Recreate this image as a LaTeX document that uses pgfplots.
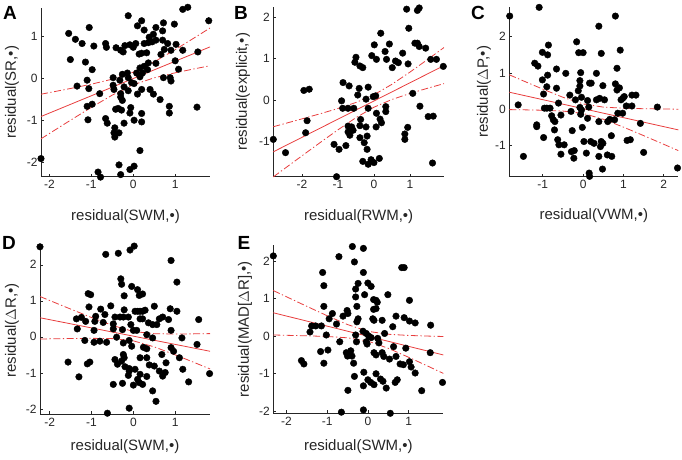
\documentclass[border=0pt]{standalone}
\usepackage{pgfplots}
\pgfplotsset{compat=1.18}
\usepackage{fontspec}
\setmainfont{Liberation Sans}
\definecolor{axgray}{RGB}{38,38,38}
\definecolor{redl}{RGB}{232,62,62}
\pgfplotsset{
  resid/.style={
    scale only axis, clip=false,
    axis lines=left, axis line style={-, draw=axgray, line width=0.6pt},
    tick align=inside, major tick length=3pt,
    tick style={axgray, line width=0.6pt},
    ticklabel style={font=\fontsize{12}{14}\selectfont, text=axgray},
    label style={font=\fontsize{15}{18}\selectfont, text=axgray},
    /pgf/number format/assume math mode=true,
    xlabel style={anchor=center},
    ylabel style={anchor=center},
  },
  pts/.style={only marks, mark=*, mark size=3.3pt, black},
  fit/.style={redl, line width=0.8pt, no marks},
  band/.style={redl, line width=0.8pt, no marks, dash pattern=on 7pt off 2.5pt on 1.3pt off 2.5pt},
}
\begin{document}
\begin{tikzpicture}[x=1pt,y=1pt]
\useasboundingbox (0,0) rectangle (682,460);
% ---------------- A
\begin{axis}[resid, at={(41pt,283.3pt)}, anchor=south west,
  width=169pt, height=169pt,
  xmin=-2.2, xmax=1.83, ymin=-2.33, ymax=1.68,
  xtick={-2,-1,0,1}, ytick={-2,-1,0,1},
  xlabel={residual(SWM,•)}, ylabel={residual(SR,•)},
  xlabel style={at={(axis description cs:0.5,0)}, yshift=-40pt},
  ylabel style={at={(axis description cs:-0.172,0.5)}}]
\addplot[pts] coordinates {
(-2.2,-1.9) (1.18,1.64) (1.3,1.69) (1.8,1.37) (-0.12,1.49) (-1.54,1.07) (-1.05,1.21)
(-1.38,0.93) (-1.22,0.83) (-1.5,0.45) (-0.94,0.77) (-0.66,0.83) (-0.64,0.74) (-0.41,0.73)
(-0.2,0.78) (-0.08,0.8) (0.0,0.74) (-0.24,0.63) (-0.3,0.67)
(0.1,1.25) (0.2,1.37) (0.26,1.15) (0.38,0.98) (0.48,1.05) (0.54,1.21) (0.7,1.13) (0.72,1.32) (0.98,1.29)
(0.7,0.91) (0.06,0.83) (0.26,0.83) (0.36,0.85) (0.45,0.87) (0.54,0.91)
(0.82,0.83) (1.02,0.81) (0.74,0.69) (0.9,0.67) (1.18,0.67) (1.54,0.63)
(0.2,0.6) (0.14,0.58) (0.32,0.61) (0.66,0.57) (0.54,0.36) (1.0,0.42) (1.08,0.22) (0.36,0.37)
(0.26,0.29) (0.16,0.25) (0.08,0.13) (0.22,0.13) (0.34,0.21) (0.16,0.04)
(-1.14,0.39) (-0.98,0.21) (-1.1,-0.04) (-1.06,-0.24) (-1.34,-0.18) (-1.1,-0.66) (-0.98,-0.61)
(-0.8,-0.36) (-1.08,-0.98) (-0.66,-0.95) (-0.62,-1.06)
(-0.48,0.02) (-0.48,-0.16) (-0.46,-0.26) (-0.32,-0.04) (-0.26,0.1) (-0.14,0.13) (-0.12,0.02)
(-0.04,-0.1) (0.02,-0.12) (-0.22,-0.2) (-0.3,-0.36) (-0.3,-0.44) (-0.26,-0.52) (-0.36,-0.71)
(-0.42,-0.73) (-0.28,-0.75) (-0.06,-0.69) (-0.08,-0.82) (-0.12,-0.29) (0.1,-0.37) (0.2,-0.26)
(0.4,-0.26) (0.48,-0.37) (0.64,-0.5) (0.88,0.02) (0.9,-0.06) (0.72,0.02)
(-0.44,-1.17) (-0.46,-1.29) (-0.44,-1.39) (-0.34,-1.29) (-0.22,-1.06) (0.02,-0.99) (0.2,-0.83)
(0.2,-1.03) (0.16,-1.71)
(-0.34,-2.05) (-0.3,-2.28) (-0.08,-2.16) (0.02,-2.08) (-0.84,-2.22) (-0.78,-2.34)
(0.86,-0.66) (0.86,-0.82) (1.52,-0.68)
};
\addplot[band] coordinates {(-2.2,-0.373) (-1.5,-0.238) (-1,-0.135) (-0.5,-0.016) (0,0.15) (0.5,0.394) (1,0.685) (1.5,0.992) (1.83,1.198)};
\addplot[band] coordinates {(-2.2,-1.431) (-1.5,-0.992) (-1,-0.685) (-0.5,-0.394) (0,-0.15) (0.5,0.016) (1,0.135) (1.5,0.238) (1.83,0.302)};
\addplot[fit] coordinates {(-2.2,-0.902) (1.83,0.75)};
\end{axis}
% ---------------- B
\begin{axis}[resid, at={(273.3pt,283.3pt)}, anchor=south west,
  width=170.7pt, height=170pt,
  xmin=-2.8, xmax=1.95, ymin=-1.85, ymax=2.25,
  xtick={-2,-1,0,1}, ytick={-1,0,1,2},
  xlabel={residual(RWM,•)}, ylabel={residual(explicit,•)},
  xlabel style={at={(axis description cs:0.5,0)}, yshift=-39.5pt},
  ylabel style={at={(axis description cs:-0.178,0.5)}}]
\addplot[pts] coordinates {
(-2.8,-0.95) (-2.46,-1.27) (-1.95,0.23) (-1.8,0.26) (-1.86,-0.5) (-1.9,-0.79) (-1.04,-1.85)
(-1.11,-1.07) (-0.97,-1.19)
(-0.86,0.42) (-0.69,0.34) (-0.9,-0.02) (-0.87,-0.2) (-0.72,-0.2) (-0.56,-0.2) (-0.78,-1.1)
(-0.72,-0.77) (-0.67,-0.85) (-0.72,-0.63) (-0.62,-0.65) (-0.58,-0.73) (-0.39,-0.62) (-0.39,-0.91)
(-0.27,-1.03) (-0.19,-0.87) (-0.22,-0.65) (-0.37,-0.47) (-0.45,0.12) (-0.41,0.28) (-0.16,0.31)
(-0.22,0.02) (-0.16,-0.2) (-0.19,-1.19) (-0.31,-1.48) (-0.16,-1.55) (-0.08,-1.44) (0,-1.51) (0.15,-1.41)
(-0.53,0.91) (-0.5,1.03) (-0.39,0.82) (-0.31,0.78) (-0.06,1.07) (0.01,1.33) (0.07,0.98) (0.19,1.61)
(0.31,1.17) (0.43,1.35) (0.35,0.98) (0.51,0.78) (0.6,0.94) (0.68,0.9) (0.8,1.13) (0.95,0.87)
(0.97,1.73) (0.91,2.19) (1.21,2.16) (1.26,2.22) (1.14,1.37) (1.21,1.37) (1.26,1.29) (1.44,1.25)
(1.58,0.98) (1.74,0.98) (1.93,0.81)
(-0.02,0.08) (0.05,0.1) (0.07,-0.32) (0.06,-0.65) (0.17,-0.46) (0.21,-0.55) (0.33,-0.16) (0.33,-0.28)
(1.08,0.16) (1.28,-0.15) (1.51,-0.4) (1.65,-0.39) (0.94,-0.66) (0.86,-0.82) (0.86,-0.95) (1.63,-1.52)
};
\addplot[band] coordinates {(-2.8,-0.645) (-2,-0.455) (-1.5,-0.333) (-1,-0.205) (-0.5,-0.06) (0,0.126) (0.5,0.378) (1,0.671) (1.5,0.981) (1.95,1.265)};
\addplot[band] coordinates {(-2.8,-1.855) (-2,-1.345) (-1.5,-1.029) (-1,-0.719) (-0.5,-0.426) (0,-0.174) (0.5,0.012) (1,0.157) (1.5,0.285) (1.95,0.395)};
\addplot[fit] coordinates {(-2.8,-1.25) (1.95,0.83)};
\end{axis}
% ---------------- C
\begin{axis}[resid, at={(509.3pt,283.3pt)}, anchor=south west,
  width=169pt, height=169.7pt,
  xmin=-1.83, xmax=2.36, ymin=-1.86, ymax=2.82,
  xtick={-1,0,1,2}, ytick={-1,0,1,2},
  xlabel={residual(VWM,•)}, ylabel={residual($\Delta$P,•)},
  xlabel style={at={(axis description cs:0.5,0)}, yshift=-39.3pt},
  ylabel style={at={(axis description cs:-0.15,0.5)}}]
\addplot[pts] coordinates {
(-1.82,2.57) (-1.09,2.81) (-1.61,0.12) (-1.48,-1.3)
(-1.2,1.27) (-1.12,1.19) (-0.86,1.77) (-1.01,1.57) (-0.88,1.5) (-1.01,0.81) (-0.88,0.94) (-0.9,0.62)
(-0.66,1.11) (-0.66,0.58) (-0.98,0.42) (-0.96,0.03) (-0.9,0.03) (-0.82,0.03) (-0.78,-0.18) (-0.74,-0.29)
(-0.7,-0.34) (-1.15,-0.43) (-1.15,-0.48) (-0.98,-0.78) (-0.71,-0.57) (-0.61,0.17) (-0.55,-0.16)
(-0.63,-0.84) (-0.6,-0.98) (-0.55,-1.24) (-0.47,-0.98)
(-0.33,0.39) (-0.3,-0.06) (-0.43,0.99) (-0.27,-0.59) (-0.29,-1.17) (-0.23,-1.35) (-0.22,-1.14)
(-0.16,1.86) (-0.11,1.56) (0,1.56) (-0.06,1.01) (-0.08,0.79) (-0.08,0.64) (-0.12,0.51) (-0.19,0.26)
(-0.04,0.33) (-0.08,0.05) (-0.04,-0.02) (-0.06,-0.14) (-0.02,-0.5) (0.02,-0.89) (0.08,-1.21)
(0.15,-1.76) (0.16,-1.85) (0.11,0.24) (0.14,0.06) (0.11,-0.25) (0.16,0.72) (0.2,0.72) (0.33,0.99)
(0.19,-0.89) (0.27,-0.94)
(0.39,2.29) (0.45,1.54) (0.33,0.26) (0.41,0.3) (0.53,0.26) (0.49,0.65) (0.39,-0.34) (0.45,-0.89)
(0.49,-0.94) (0.43,-1.03) (0.39,-1.3) (0.48,-1.65) (0.61,-0.34) (0.66,-0.28) (0.7,-0.73) (0.6,-1.26)
(0.71,-1.3) (0.78,-0.29) (0.8,0.7) (0.84,0.53) (0.9,0.59) (0.84,1.13) (0.8,2.57) (0.92,1.63)
(0.94,0.26) (0.98,0.3) (1.02,0.35) (0.98,-0.11) (1.07,0.09) (1.09,-0.86) (1.17,-0.84) (1.21,0.09)
(1.21,0.39) (1.31,0.39) (1.42,-0.39) (1.5,-1.19) (1.84,0.06) (2.34,-1.62) (0.86,-0.11)
};
\addplot[band] coordinates {(-1.83,0.95) (-1.5,0.791) (-1,0.555) (-0.5,0.33) (0,0.147) (0.5,0.059) (1,0.029) (1.5,0.015) (2,0.007) (2.36,0.002)};
\addplot[band] coordinates {(-1.83,-0.01) (-1.5,-0.015) (-1,-0.027) (-0.5,-0.05) (0,-0.115) (0.5,-0.275) (1,-0.493) (1.5,-0.727) (2,-0.967) (2.36,-1.14)};
\addplot[fit] coordinates {(-1.83,0.47) (2.36,-0.569)};
\end{axis}
% ---------------- D
\begin{axis}[resid, at={(40pt,45.7pt)}, anchor=south west,
  width=170pt, height=167.5pt,
  xmin=-2.23, xmax=1.83, ymin=-2.15, ymax=2.5,
  xtick={-2,-1,0,1}, ytick={-2,-1,0,1,2},
  xlabel={residual(SWM,•)}, ylabel={residual($\Delta$R,•)},
  xlabel style={at={(axis description cs:0.5,0)}, yshift=-32.4pt},
  ylabel style={at={(axis description cs:-0.165,0.5)}}]
\addplot[pts] coordinates {
(-2.23,2.5) (-0.66,2.29) (-0.36,2.32) (-0.08,2.41) (0.02,2.52) (0.9,2.12) (1.04,1.52)
(-0.3,1.61) (-0.28,1.46) (-0.04,1.4) (0.1,1.31) (0.14,1.15) (0.22,1.19) (-0.22,1.14) (-1.08,1.2)
(-1.02,1.17) (-1.06,0.83) (-0.78,0.77) (-0.54,0.86) (-0.22,0.75) (-0.68,0.62) (-0.9,0.57) (-1.24,0.54)
(-1.36,0.5) (-1.34,0.22) (-1.14,0.43) (-0.92,0.43) (-0.72,0.4) (-0.44,0.55) (-0.32,0.55) (-0.24,0.55)
(-0.12,0.55) (-0.48,0.36) (-0.48,0.22) (-0.26,0.2) (-0.06,0.34) (0.04,0.71) (0.1,0.71) (0.16,0.71)
(0.22,0.71) (0.28,0.74) (0.5,0.85) (0.16,0.5) (0.22,0.5) (0.36,0.39) (0.46,0.34) (0.56,0.34)
(0.62,0.5) (0.7,0.55) (0.84,0.48) (0.88,0.78) (1.04,0.71) (0.9,0.18) (0,0.18) (0.08,0.18)
(0.32,0.06) (0.46,-0.03) (-0.94,-0.15) (-1.16,-0.1) (-0.94,0.18) (-0.64,-0.15) (-0.4,-0.01)
(-0.24,-0.17) (-0.1,-0.1) (-0.04,-0.26) (0.24,-0.29) (0.32,-0.33) (-0.24,-0.49) (-0.22,-0.58)
(-0.44,-0.63) (-0.38,-0.76) (-0.28,-0.67) (-0.2,-0.83) (-0.1,-0.88) (-0.1,-0.95) (0.04,-0.9)
(0.16,-0.58) (0.16,-1.04) (0.22,-1.32) (0.32,-1.1) (0.38,-0.78) (0.5,-0.81) (0.32,-0.58) (0.68,-0.49)
(0.76,-0.99) (0.78,-0.72) (0.9,-0.3) (0.96,-0.4) (1.1,-0.58) (1.16,-0.03) (1.18,-0.9) (1.52,-0.21)
(1.56,0.48) (1.82,-1.02)
(-1.56,-0.7) (-1.3,-1.11) (-1.1,-0.75) (-1.04,-0.7) (-0.48,-1.32) (-0.26,-1.29) (-0.12,-1.07)
(0.1,-1.18) (0,-1.34) (0.14,-1.27) (0.46,-1.5) (0.54,-1.79) (0.62,-0.95) (0.7,-1.09) (1.32,-1.25)
(-0.1,-1.98) (-0.62,-2.12) (-0.8,-0.12)
};
\addplot[band] coordinates {(-2.23,1.12) (-1.5,0.772) (-1,0.537) (-0.5,0.317) (0,0.149) (0.5,0.087) (1,0.079) (1.5,0.084) (1.83,0.09)};
\addplot[band] coordinates {(-2.23,-0.06) (-1.5,-0.046) (-1,-0.041) (-0.5,-0.049) (0,-0.111) (0.5,-0.279) (1,-0.499) (1.5,-0.734) (1.83,-0.89)};
\addplot[fit] coordinates {(-2.23,0.53) (1.83,-0.4)};
\end{axis}
% ---------------- E
\begin{axis}[resid, at={(273.3pt,46.7pt)}, anchor=south west,
  width=170pt, height=168.3pt,
  xmin=-2.32, xmax=1.85, ymin=-2.05, ymax=2.42,
  xtick={-2,-1,0,1}, ytick={-2,-1,0,1,2},
  xlabel={residual(SWM,•)}, ylabel={residual(MAD[$\Delta$R],•)},
  xlabel style={at={(axis description cs:0.5,0)}, yshift=-33.4pt},
  ylabel style={at={(axis description cs:-0.166,0.5)}}]
\addplot[pts] coordinates {
(-2.32,2.13) (-0.71,2.11) (-0.38,2.38) (-0.11,2.33) (-0.33,1.97) (-0.11,1.69) (-1.11,1.69) (-1.08,1.34)
(-0.24,1.4) (-0.3,1.25) (-0.3,1.04) (0,1.41) (0.08,1.32) (-0.08,1.1) (0.49,1.1) (0.83,1.82) (0.89,1.82)
(0.14,0.97) (0.2,0.95) (0.23,0.9) (1.02,0.95) (-1.08,0.79) (-0.51,0.68) (-0.49,0.6) (-0.61,0.53)
(-0.27,0.79) (0.14,0.71) (0.2,0.73) (-0.87,0.6) (-0.95,0.46) (-0.77,0.32) (-0.24,0.46) (-0.27,0.38)
(0.12,0.46) (0.15,0.42) (0.35,0.42) (0.61,0.25) (0.69,0.53) (0.89,0.49) (1.02,0.4) (1.16,0.35)
(1.54,0.29) (-1.38,0.27) (-1.28,0.27) (-1.14,0.27) (-1.42,0.11) (-1.02,0.03) (-0.3,0.03) (-0.12,0.13)
(-0.04,0.07) (0.02,0) (0.08,-0.04) (0.24,-0.06) (0.27,-0.18) (0.41,0.07) (-0.04,-0.15) (-0.28,-0.15)
(-0.69,-0.15) (-0.02,-0.21) (-0.98,-0.37) (-1.16,-0.41) (-0.53,-0.44) (-0.42,-0.39) (-0.5,-0.53)
(-0.39,-0.53) (0.15,-0.44) (0.2,-0.5) (0.35,-0.44) (0.39,-0.54) (0.63,-0.28) (0.93,-0.32) (0.53,-0.61)
(0.69,-0.54) (0.79,-0.74) (0.87,-0.76) (1.02,-0.68) (1.06,-0.82) (1.53,-0.44) (-1.08,-0.72)
(-1.63,-0.65) (-1.57,-0.74) (-0.35,-0.72) (-0.1,-0.96) (0.2,-1.0) (-0.33,-1.07) (0.31,-1.14)
(0.37,-1.2) (0,-1.16) (0.07,-1.23) (0.15,-1.29) (-0.11,-1.32) (0.45,-1.38) (0.67,-1.23) (0.72,-1.16)
(1.16,-0.98) (1.32,-1.45) (1.83,-1.23) (-0.49,-1.44) (-0.65,-2.02) (-0.11,-1.96) (0.55,-2.05)
};
\addplot[band] coordinates {(-2.32,1.21) (-1.5,0.792) (-1,0.542) (-0.5,0.307) (0,0.127) (0.5,0.049) (1,0.018) (1.5,0.0) (1.85,-0.01)};
\addplot[band] coordinates {(-2.32,0.03) (-1.5,0.008) (-1,-0.01) (-0.5,-0.045) (0,-0.133) (0.5,-0.323) (1,-0.562) (1.5,-0.812) (1.85,-0.99)};
\addplot[fit] coordinates {(-2.32,0.62) (1.85,-0.5)};
\end{axis}
% panel letters
\node[font=\fontsize{19}{22}\selectfont\bfseries, text=black] at (10,447) {A};
\node[font=\fontsize{19}{22}\selectfont\bfseries, text=black] at (241,447) {B};
\node[font=\fontsize{19}{22}\selectfont\bfseries, text=black] at (478,447) {C};
\node[font=\fontsize{19}{22}\selectfont\bfseries, text=black] at (9,217) {D};
\node[font=\fontsize{19}{22}\selectfont\bfseries, text=black] at (244,217) {E};
\end{tikzpicture}
\end{document}
